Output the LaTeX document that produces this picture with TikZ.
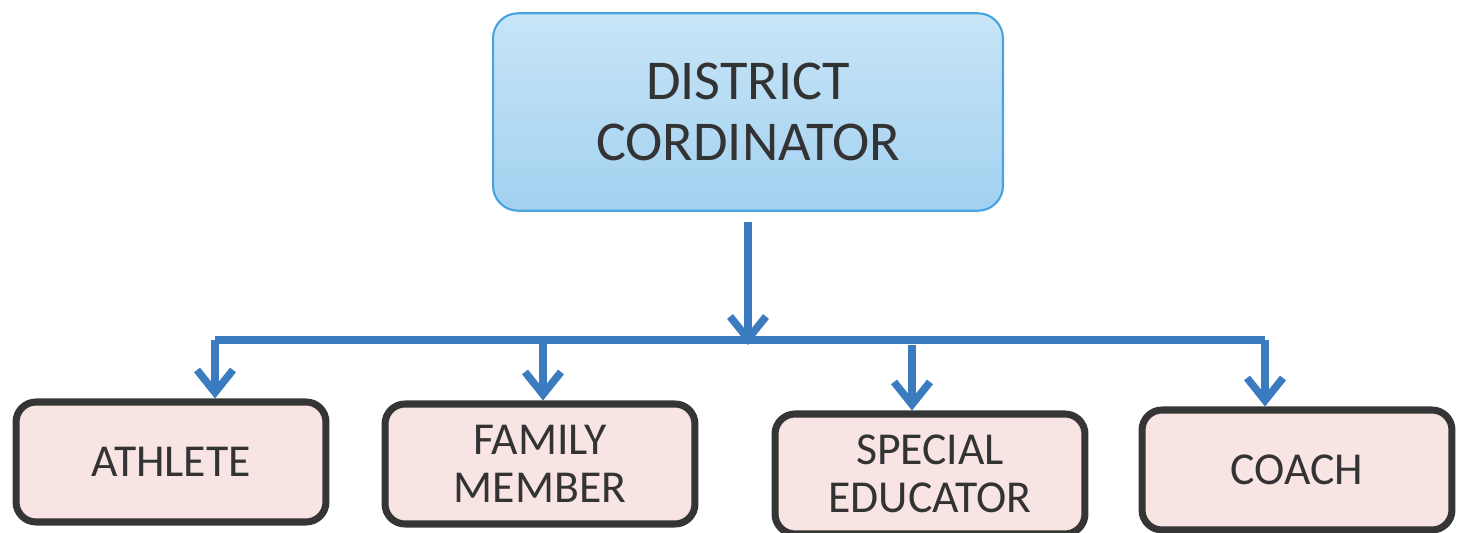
\documentclass[tikz,border=0pt]{standalone}
\usepackage{fontspec}
\setmainfont{Carlito}
\usetikzlibrary{arrows.meta}
\definecolor{linkblue}{HTML}{3B7BBF}
\definecolor{topedge}{HTML}{4AA3DC}
\definecolor{toptop}{HTML}{C8E5F7}
\definecolor{topbot}{HTML}{A2D1F0}
\definecolor{boxfill}{HTML}{F8E4E2}
\definecolor{boxedge}{HTML}{353535}
\definecolor{ink}{HTML}{333333}
\tikzset{
  topbox/.style={draw=topedge, line width=1.2pt, rounded corners=0.5cm,
    top color=toptop, bottom color=topbot, minimum width=10.2cm,
    minimum height=3.95cm, align=center, text=ink,
    font=\fontsize{32}{35}\selectfont},
  rolebox/.style={draw=boxedge, fill=boxfill, line width=4pt, rounded corners=0.4cm,
    minimum width=6.2cm, minimum height=2.4cm, align=center, text=ink,
    font=\fontsize{26}{27}\selectfont},
  link/.style={draw=linkblue, line width=4.3pt},
  arr/.style={link, -{Straight Barb[length=0.45cm,width=0.72cm]}}
}
\begin{document}
\begin{tikzpicture}[x=0.02cm, y=-0.02cm]
    \useasboundingbox (0,0) rectangle (1468,533);
    \node[topbox] (dc) at (748,112) {DISTRICT\\CORDINATOR};
    \node[rolebox] (athlete) at (171,462) {ATHLETE};
    \node[rolebox] (family) at (540,464) {FAMILY\\MEMBER};
    \node[rolebox] (special) at (930,474) {SPECIAL\\EDUCATOR};
    \node[rolebox] (coach) at (1297,470) {COACH};
    \coordinate (hub) at (748,345);
    \coordinate (b1) at (215,340);
    \coordinate (b2) at (543,340);
    \coordinate (b3) at (912,340);
    \coordinate (b4) at (1265,340);
    \draw[link] (b1) -- (b4);
    \draw[arr, shorten <=0.2cm] (dc.south) -- (hub);
    \draw[arr] (b1) -- (b1 |- athlete.north);
    \draw[arr] (b2) -- (b2 |- family.north);
    \draw[arr, shorten <=0.1cm] (b3) -- (b3 |- special.north);
    \draw[arr] (b4) -- (b4 |- coach.north);
  \end{tikzpicture}
\end{document}
